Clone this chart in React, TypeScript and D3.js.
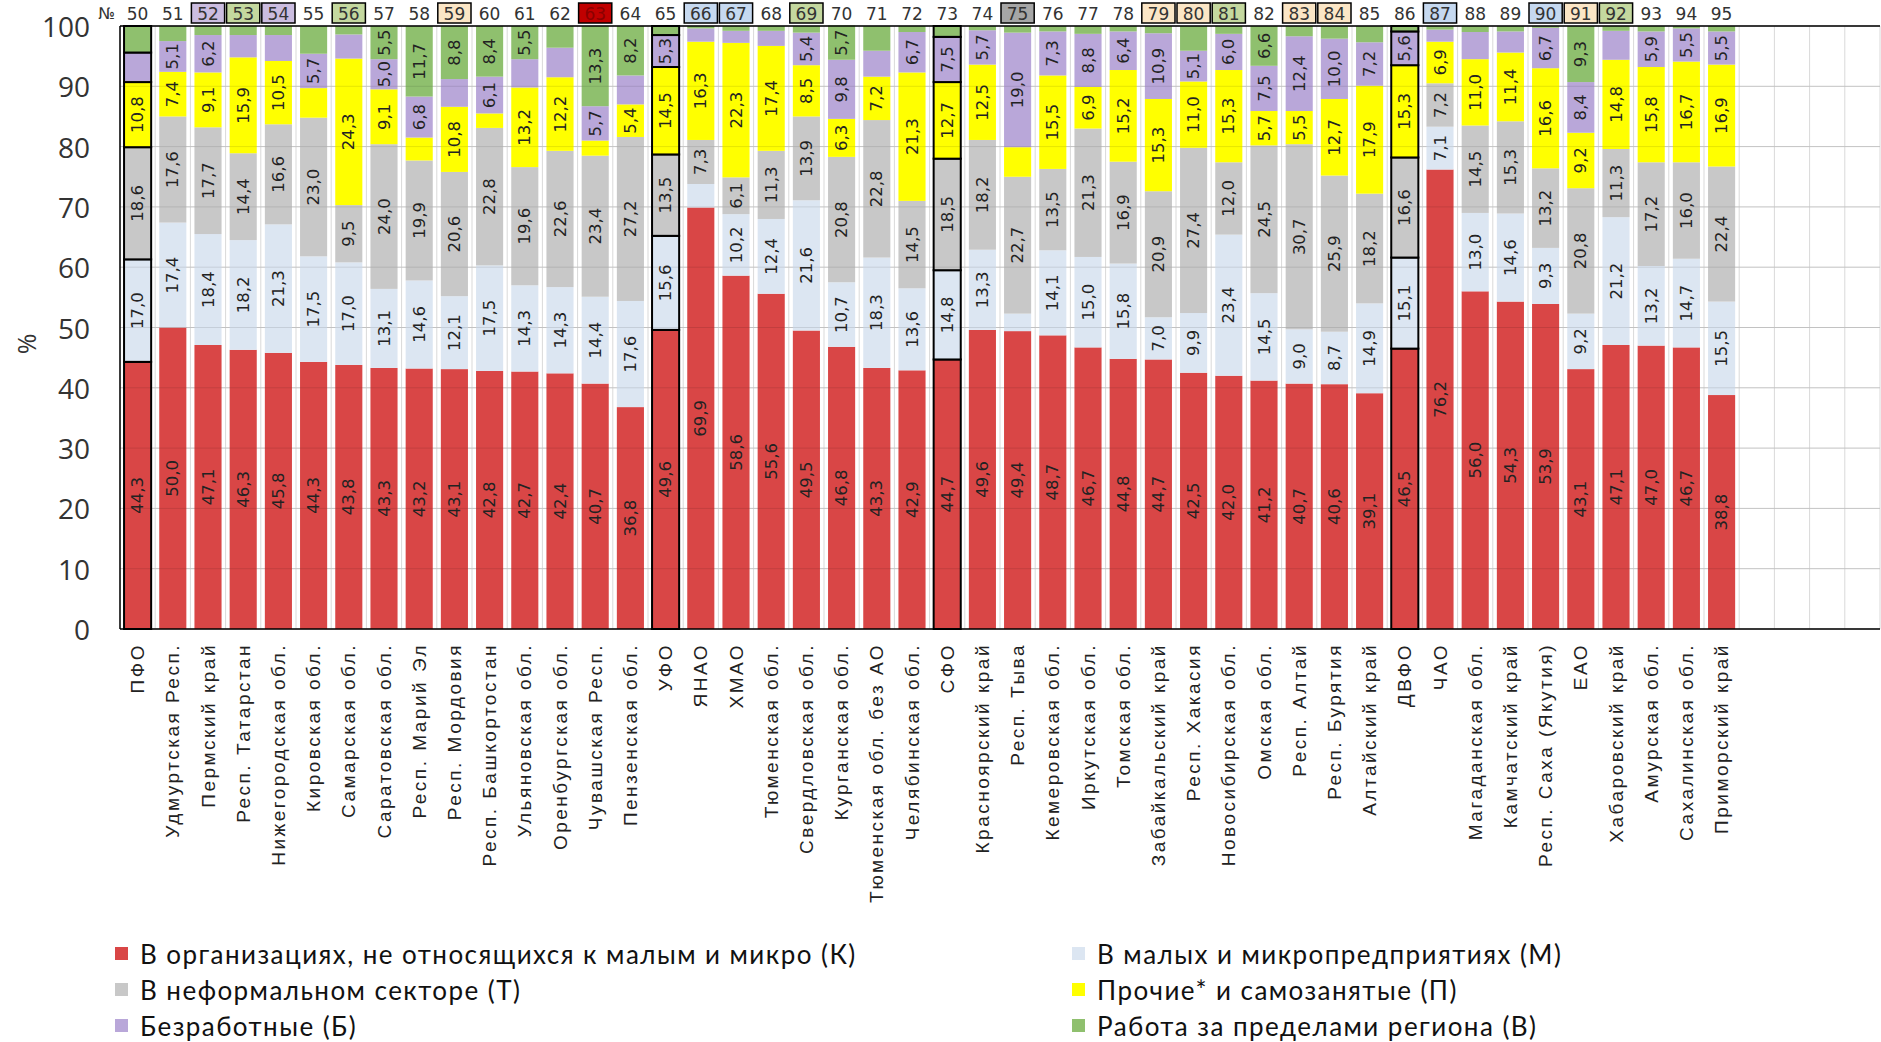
import React from "react";
import * as d3 from "d3";

const regions = ["ПФО","Удмуртская Респ.","Пермский край","Респ. Татарстан","Нижегородская обл.","Кировская обл.","Самарская обл.","Саратовская обл.","Респ. Марий Эл","Респ. Мордовия","Респ. Башкортостан","Ульяновская обл.","Оренбургская обл.","Чувашская Респ.","Пензенская обл.","УФО","ЯНАО","ХМАО","Тюменская обл.","Свердловская обл.","Курганская обл.","Тюменская обл. без АО","Челябинская обл.","СФО","Красноярский край","Респ. Тыва","Кемеровская обл.","Иркутская обл.","Томская обл.","Забайкальский край","Респ. Хакасия","Новосибирская обл.","Омская обл.","Респ. Алтай","Респ. Бурятия","Алтайский край","ДВФО","ЧАО","Магаданская обл.","Камчатский край","Респ. Саха (Якутия)","ЕАО","Хабаровский край","Амурская обл.","Сахалинская обл.","Приморский край"];

const numbers = d3.range(50, 96);
const districts = ["ПФО", "УФО", "СФО", "ДВФО"];

// box class of the number row above the chart ("" = no box)
const numberBoxes = ["","","purple","green","purple","","green","","","beige","","","","darkred","","","blue","blue","","green","","","","","","grey","","","","beige","beige","green","","beige","beige","","","blue","","","blue","beige","green","","",""];

const K = [44.3,50.0,47.1,46.3,45.8,44.3,43.8,43.3,43.2,43.1,42.8,42.7,42.4,40.7,36.8,49.6,69.9,58.6,55.6,49.5,46.8,43.3,42.9,44.7,49.6,49.4,48.7,46.7,44.8,44.7,42.5,42.0,41.2,40.7,40.6,39.1,46.5,76.2,56.0,54.3,53.9,43.1,47.1,47.0,46.7,38.8];
const M = [17.0,17.4,18.4,18.2,21.3,17.5,17.0,13.1,14.6,12.1,17.5,14.3,14.3,14.4,17.6,15.6,3.9,10.2,12.4,21.6,10.7,18.3,13.6,14.8,13.3,2.9,14.1,15.0,15.8,7.0,9.9,23.4,14.5,9.0,8.7,14.9,15.1,7.1,13.0,14.6,9.3,9.2,21.2,13.2,14.7,15.5];
const T = [18.6,17.6,17.7,14.4,16.6,23.0,9.5,24.0,19.9,20.6,22.8,19.6,22.6,23.4,27.2,13.5,7.3,6.1,11.3,13.9,20.8,22.8,14.5,18.5,18.2,22.7,13.5,21.3,16.9,20.9,27.4,12.0,24.5,30.7,25.9,18.2,16.6,7.2,14.5,15.3,13.2,20.8,11.3,17.2,16.0,22.4];
const P = [10.8,7.4,9.1,15.9,10.5,4.9,24.3,9.1,3.8,10.8,2.4,13.2,12.2,2.5,5.4,14.5,16.3,22.3,17.4,8.5,6.3,7.2,21.3,12.7,12.5,4.9,15.5,6.9,15.2,15.3,11.0,15.3,5.7,5.5,12.7,17.9,15.3,6.9,11.0,11.4,16.6,9.2,14.8,15.8,16.7,16.9];
const B = [4.9,5.1,6.2,3.7,4.3,5.7,4.0,5.0,6.8,4.6,6.1,4.7,4.9,5.7,4.8,5.3,2.2,2.0,2.5,5.4,9.8,4.3,6.7,7.5,5.7,19.0,7.3,8.8,6.4,10.9,5.1,6.0,7.5,12.4,10.0,7.2,5.6,2.0,4.5,3.5,6.7,8.4,4.8,5.9,5.5,5.5];
const V = [4.4,2.5,1.5,1.5,1.5,4.6,1.4,5.5,11.7,8.8,8.4,5.5,3.6,13.3,8.2,1.5,0.4,0.8,0.8,1.1,5.7,4.1,1.0,1.8,0.7,1.1,0.9,1.3,0.9,1.2,4.1,1.3,6.6,1.7,2.1,2.7,0.9,0.6,1.0,0.9,0.3,9.3,0.8,0.9,0.4,0.9];

const seriesKeys = ["K", "M", "T", "P", "B", "V"];
const seriesNames = [
  "В организациях, не относящихся к малым и микро (К)",
  "В малых и микропредприятиях (М)",
  "В неформальном секторе (Т)",
  "Прочие* и самозанятые (П)",
  "Безработные (Б)",
  "Работа за пределами региона (В)",
];
const seriesColors = ["#d94646", "#dce6f2", "#c8c8c8", "#ffff00", "#b9a7d9", "#8fc06e"];
const boxColors: Record<string, string> = {
  purple: "#cbbde0",
  green: "#c4d89f",
  beige: "#fbe6c6",
  blue: "#c6d9f0",
  grey: "#a6a6a6",
  darkred: "#c00000",
};
const yTicks = [0, 10, 20, 30, 40, 50, 60, 70, 80, 90, 100];
const totalSlots = 50;

export default function App() {
  const W = 1881, H = 1042;
  const left = 120, right = 1880, top = 26, bottom = 629;

  const rows = regions.map((r, i) => ({ region: r, K: K[i], M: M[i], T: T[i], P: P[i], B: B[i], V: V[i] }));
  const stacked = d3.stack<any>().keys(seriesKeys)(rows);

  const slots = d3.range(totalSlots);
  const xBand = d3.scaleBand<number>().domain(slots).range([left, right]).paddingInner(0).paddingOuter(0);
  const bw = xBand.bandwidth();
  const barW = bw * 0.77;
  const y = d3.scaleLinear().domain([0, 100]).range([bottom, top]);

  const fmt = (v: number) => v.toFixed(1).replace(".", ",");

  return (
    <svg width={W} height={H} style={{ position: "absolute", left: 0, top: 0, background: "#fff" }}>
      {d3.range(totalSlots + 1).map((i) => (
        <line key={"vg" + i} x1={left + i * bw} x2={left + i * bw} y1={top} y2={bottom} stroke="#d9d9d9" strokeWidth={1} />
      ))}
      {yTicks.map((t) => (
        <line key={"hg" + t} x1={left} x2={right} y1={y(t)} y2={y(t)} stroke="#d9d9d9" strokeWidth={1} />
      ))}
      {stacked.map((s, si) => (
        <g key={s.key}>
          {s.map((d, i) => {
            const x0 = (xBand(i) as number) + (bw - barW) / 2;
            const isD = districts.includes(regions[i]);
            return (
              <rect key={i} x={x0} width={barW} y={y(d[1])} height={y(d[0]) - y(d[1])}
                fill={seriesColors[si]} stroke={isD ? "#000" : "none"} strokeWidth={isD ? 2 : 0} />
            );
          })}
        </g>
      ))}
      {yTicks.map((t) => (
        <line key={"hg2" + t} x1={left} x2={right} y1={y(t)} y2={y(t)} stroke="#000" strokeOpacity={0.1} strokeWidth={1} />
      ))}
      {stacked.map((s) => (
        <g key={"l" + s.key}>
          {s.map((d, i) => {
            const v = d[1] - d[0];
            if (v < 5) return null;
            const cx = (xBand(i) as number) + bw / 2;
            const cy = (y(d[0]) + y(d[1])) / 2;
            return (
              <text key={i} transform={`translate(${cx},${cy}) rotate(-90)`} textAnchor="middle" dominantBaseline="central"
                fontFamily="'DejaVu Sans', Verdana, sans-serif" fontSize={16.5} fill="#222">{fmt(v)}</text>
            );
          })}
        </g>
      ))}
      <line x1={left} x2={right} y1={top} y2={top} stroke="#000" strokeWidth={1.5} />
      <line x1={left} x2={right} y1={bottom} y2={bottom} stroke="#000" strokeWidth={1.5} />
      <line x1={left} x2={left} y1={top} y2={bottom} stroke="#000" strokeWidth={1.5} />
      {yTicks.map((t) => (
        <text key={"yt" + t} x={90} y={y(t)} textAnchor="end" dominantBaseline="central"
          fontFamily="'Open Sans', sans-serif" fontSize={28} fill="#333">{t}</text>
      ))}
      <text transform={`translate(26,344) rotate(-90)`} textAnchor="middle" dominantBaseline="central"
        fontFamily="'Open Sans', sans-serif" fontSize={25} fill="#333">%</text>
      <text x={115} y={13} textAnchor="end" dominantBaseline="central" fontFamily="'DejaVu Sans', sans-serif" fontSize={16} fill="#333">№</text>
      {numbers.map((n, i) => {
        const bx = xBand(i) as number;
        const box = numberBoxes[i];
        return (
          <g key={"n" + n}>
            {box && <rect x={bx + 1} y={3} width={bw - 2} height={20} fill={boxColors[box]} stroke="#000" strokeWidth={1.5} />}
            <text x={bx + bw / 2} y={13.5} textAnchor="middle" dominantBaseline="central" fontFamily="'DejaVu Sans', sans-serif"
              fontSize={17} fill={box === "darkred" ? "#8a0000" : "#333"}>{n}</text>
          </g>
        );
      })}
      {regions.map((r, i) => (
        <text key={"c" + i} transform={`translate(${(xBand(i) as number) + bw / 2},${bottom + 14}) rotate(-90)`}
          textAnchor="end" dominantBaseline="central" fontFamily="'Liberation Sans', Arial, sans-serif" fontSize={19}
          letterSpacing={2.5} fill="#222">{r}</text>
      ))}
      {seriesNames.map((name, i) => {
        const col = i % 2;
        const row = Math.floor(i / 2);
        const lx = col === 0 ? 115 : 1072;
        const ly = 954 + row * 36;
        return (
          <g key={"lg" + i}>
            <rect x={lx} y={ly - 7} width={13} height={13} fill={seriesColors[i]} />
            <text x={lx + 25} y={ly} dominantBaseline="central" fontFamily="Lato, 'Liberation Sans', sans-serif" fontSize={26}
              letterSpacing={1.45} fill="#111">{name}</text>
          </g>
        );
      })}
    </svg>
  );
}
